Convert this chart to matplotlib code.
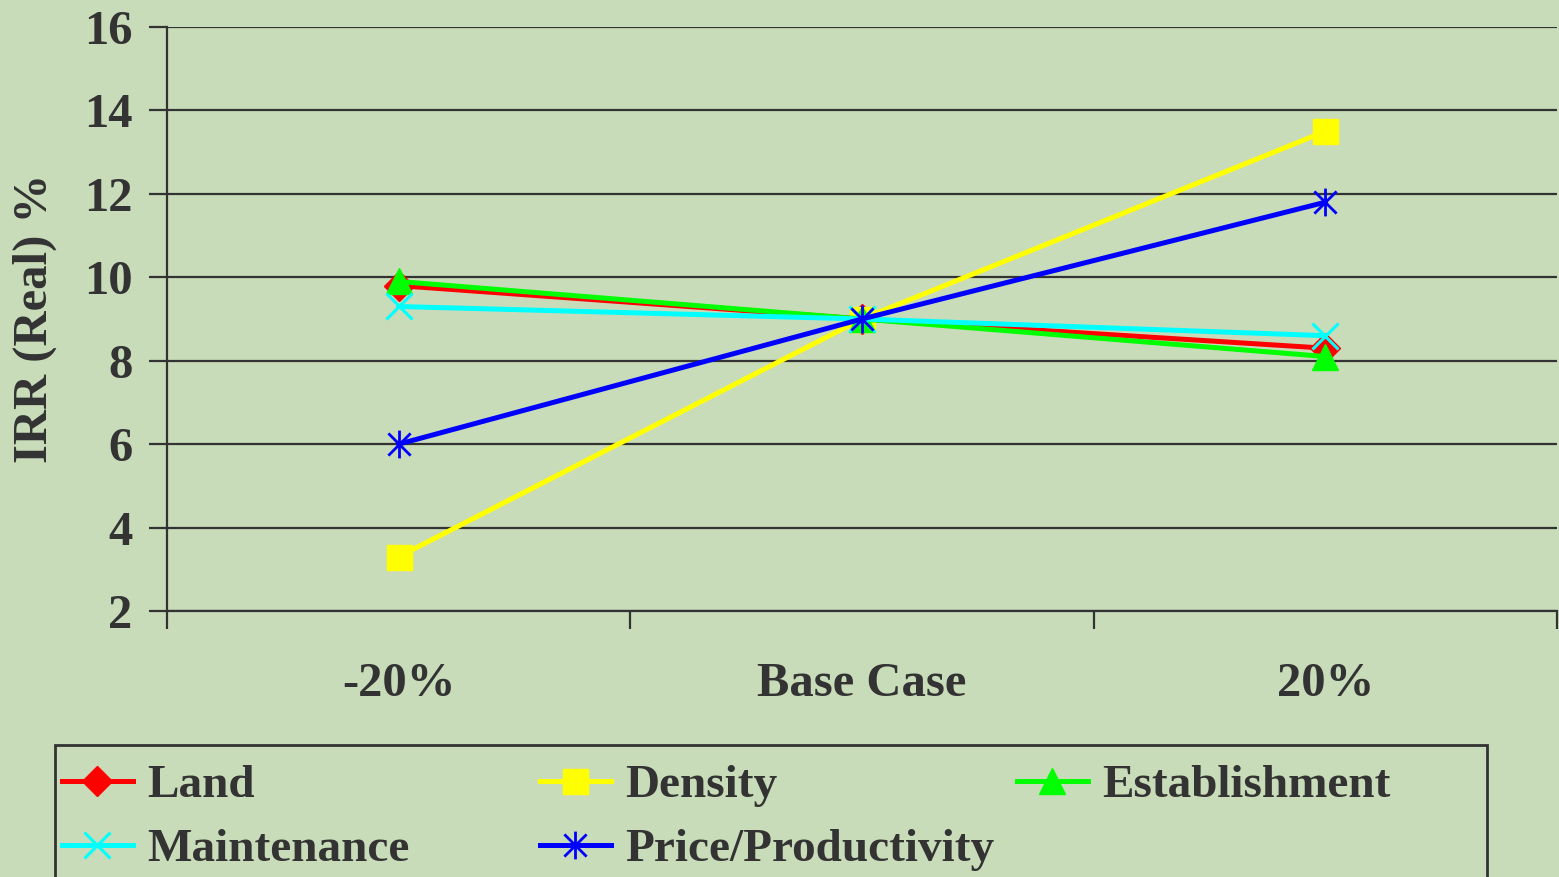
import numpy as np
import matplotlib.pyplot as plt
from matplotlib.path import Path
from matplotlib.patches import Rectangle

# Data
scenarios = ["-20%", "Base Case", "20%"]
land = [9.8, 9.0, 8.3]
density = [3.3, 9.0, 13.5]
establishment = [9.9, 9.0, 8.1]
maintenance = [9.3, 9.0, 8.6]
price_productivity = [6.0, 9.0, 11.8]
y_ticks = [2, 4, 6, 8, 10, 12, 14, 16]

TEXT = "#333333"
BG = "#c9dcb9"
FS = 35

plt.rcParams['font.family'] = ['Liberation Serif', 'DejaVu Serif']
plt.rcParams['font.weight'] = 'bold'

# asterisk marker: vertical bar + X
asterisk = Path(
    [(0, -1), (0, 1), (-0.8, -0.8), (0.8, 0.8), (-0.8, 0.8), (0.8, -0.8)],
    [Path.MOVETO, Path.LINETO, Path.MOVETO, Path.LINETO, Path.MOVETO, Path.LINETO],
)

fig = plt.figure(figsize=(15.59, 8.77), dpi=100)
fig.patch.set_facecolor(BG)
ax = fig.add_axes([167 / 1559, 1 - 611 / 877, 1390 / 1559, 584 / 877])
ax.set_facecolor('none')

x = np.arange(len(scenarios))
lw = 3.6
h_land, = ax.plot(x, land, color='#ff0000', lw=lw, marker='D', ms=15,
                  mec='#ff0000', label='Land')
h_den, = ax.plot(x, density, color='#ffff00', lw=lw, marker='s', ms=18,
                 mec='#ffff00', label='Density')
h_est, = ax.plot(x, establishment, color='#00ff00', lw=lw, marker='^', ms=19,
                 mec='#00ff00', label='Establishment')
h_mnt, = ax.plot(x, maintenance, color='#00ffff', lw=lw, marker='x', ms=19,
                 mew=2.2, label='Maintenance')
h_prc, = ax.plot(x, price_productivity, color='#0000ff', lw=lw, marker=asterisk,
                 ms=20, mew=2, label='Price/Productivity')

ax.set_xlim(-0.5, len(scenarios) - 0.5)
ax.set_ylim(min(y_ticks), max(y_ticks))
ax.set_yticks(y_ticks)
ax.yaxis.grid(True, color=TEXT, lw=1.6)
ax.set_axisbelow(True)

# tick marks at category boundaries, labels at category centres
ax.set_xticks(np.arange(len(scenarios) + 1) - 0.5)
ax.set_xticklabels([])
ax.set_xticks(x, minor=True)
ax.set_xticklabels(scenarios, minor=True, fontsize=FS, fontweight='bold', color=TEXT)
ax.tick_params(axis='x', which='minor', length=0, pad=37)
ax.tick_params(axis='x', which='major', length=13, width=1.6, color=TEXT)
ax.tick_params(axis='y', length=13, width=1.6, color=TEXT, labelsize=FS,
               labelcolor=TEXT, pad=12)
for lbl in ax.get_yticklabels():
    lbl.set_fontweight('bold')

for side in ['top', 'right']:
    ax.spines[side].set_visible(False)
ax.spines['left'].set_color(TEXT)
ax.spines['left'].set_linewidth(1.6)
ax.spines['bottom'].set_color(TEXT)
ax.spines['bottom'].set_linewidth(1.6)

fig.text(35 / 1559, 1 - 318 / 877, "IRR (Real) %", rotation=90, ha='center',
         va='center', fontsize=FS, fontweight='bold', color=TEXT)

# legend: box plus three columns
fig.patches.append(Rectangle((55 / 1559, -0.05), 1432 / 1559, 1 - 745 / 877 + 0.05,
                             transform=fig.transFigure, fill=False,
                             edgecolor=TEXT, lw=2))
columns = [([h_land, h_mnt], 62), ([h_den, h_prc], 540), ([h_est], 1017)]
for handles, xpix in columns:
    leg = fig.legend(handles=handles, loc='upper left',
                     bbox_to_anchor=(xpix / 1559, 1 - 764 / 877),
                     frameon=False, fontsize=34, handlelength=1.5,
                     handletextpad=0.3, labelspacing=0.45, borderaxespad=0,
                     borderpad=0)
    for t in leg.get_texts():
        t.set_color(TEXT)
        t.set_fontweight('bold')

fig.savefig('out.png', dpi=100, facecolor=BG)
